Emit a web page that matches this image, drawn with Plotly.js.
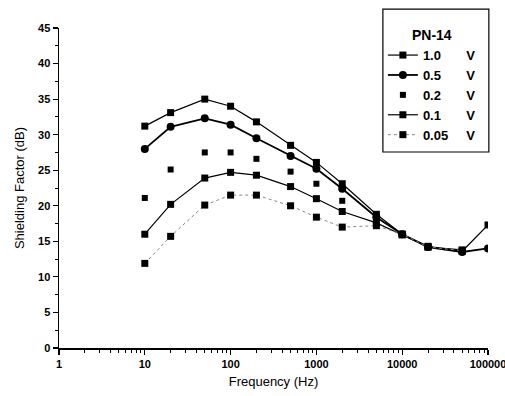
<!DOCTYPE html>
<html>
<head>
<meta charset="utf-8">
<script src="https://cdn.plot.ly/plotly-3.0.1.min.js"></script>
<style>html,body{margin:0;padding:0;background:#fff;}#chart{width:505px;height:396px;}</style>
</head>
<body>
<div id="chart"></div>
<script>
const freq = [10, 20, 50, 100, 200, 500, 1000, 2000, 5000, 10000, 20000, 50000, 100000];
const v10  = [31.2, 33.1, 35.0, 34.0, 31.8, 28.5, 26.1, 23.1, 18.8, 16.0, 14.3, 13.6, 17.3];
const v05  = [28.0, 31.1, 32.3, 31.4, 29.5, 27.0, 25.2, 22.4, 18.4, 16.0, 14.2, 13.5, 14.0];
const v02  = [21.1, 25.1, 27.5, 27.5, 26.6, 24.8, 23.1, 20.7, 18.0, 16.0, 14.2, 13.6, null];
const v01  = [16.0, 20.2, 23.9, 24.7, 24.3, 22.7, 21.0, 19.2, 17.6, 15.9, 14.2, 13.8, null];
const v005 = [11.9, 15.7, 20.1, 21.5, 21.5, 20.0, 18.4, 17.0, 17.2, 16.0, 14.2, 13.7, null];
const seriesNames = ['1.0\u00a0\u00a0\u00a0\u00a0\u00a0\u00a0\u00a0V', '0.5\u00a0\u00a0\u00a0\u00a0\u00a0\u00a0\u00a0V', '0.2\u00a0\u00a0\u00a0\u00a0\u00a0\u00a0\u00a0V', '0.1\u00a0\u00a0\u00a0\u00a0\u00a0\u00a0\u00a0V', '0.05\u00a0\u00a0\u00a0\u00a0\u00a0V'];
const legendTitle = 'PN-14';
const xTickVals = [1, 10, 100, 1000, 10000, 100000];
const xTickText = ['1', '10', '100', '1000', '10000', '100000'];
const yTickVals = [0, 5, 10, 15, 20, 25, 30, 35, 40, 45];

const F = 'Liberation Sans, Arial, sans-serif';
const traces = [
  {x: freq, y: v10, name: seriesNames[0], mode: 'lines+markers',
   line: {color: '#000', width: 1.2}, marker: {symbol: 'square', size: 7, color: '#000'}},
  {x: freq, y: v05, name: seriesNames[1], mode: 'lines+markers',
   line: {color: '#000', width: 1.8}, marker: {symbol: 'circle', size: 8, color: '#000'}},
  {x: freq, y: v02, name: seriesNames[2], mode: 'markers',
   marker: {symbol: 'square', size: 6, color: '#000'}},
  {x: freq, y: v01, name: seriesNames[3], mode: 'lines+markers',
   line: {color: '#000', width: 1.2}, marker: {symbol: 'square', size: 7, color: '#000'}},
  {x: freq, y: v005, name: seriesNames[4], mode: 'lines+markers',
   line: {color: '#888', width: 1, dash: 'dot'}, marker: {symbol: 'square', size: 7, color: '#000'}}
];

const layout = {
  width: 505, height: 396,
  margin: {l: 59, r: 17, t: 28, b: 48},
  paper_bgcolor: '#fff', plot_bgcolor: '#fff',
  font: {family: F, color: '#000'},
  showlegend: true,
  xaxis: {
    type: 'log', range: [0, 5],
    tickmode: 'array', tickvals: xTickVals, ticktext: xTickText,
    ticklabeloverflow: 'allow',
    ticks: 'outside', ticklen: 5, tickwidth: 1.2, tickcolor: '#000',
    minor: {ticks: 'outside', ticklen: 3, tickwidth: 1, tickcolor: '#000', dtick: 'D1', showgrid: false},
    showline: true, linecolor: '#000', linewidth: 1.5,
    showgrid: false, zeroline: false,
    tickfont: {family: F, size: 11, weight: 'bold', color: '#000'},
    title: {text: 'Frequency (Hz)', font: {family: F, size: 13, color: '#000'}, standoff: 8}
  },
  yaxis: {
    range: [0, 45], tickmode: 'array', tickvals: yTickVals,
    ticks: 'outside', ticklen: 5, tickwidth: 1.2, tickcolor: '#000',
    minor: {ticks: 'outside', ticklen: 3, tickwidth: 1, tickcolor: '#000', dtick: 2.5, tick0: 0, showgrid: false},
    showline: true, linecolor: '#000', linewidth: 1.5,
    showgrid: false, zeroline: false,
    tickfont: {family: F, size: 11, weight: 'bold', color: '#000'},
    title: {text: 'Shielding Factor (dB)', font: {family: F, size: 13, color: '#000'}, standoff: 10}
  },
  legend: {
    x: 0.755, y: 1.019, xanchor: 'left', yanchor: 'top',
    borderwidth: 0, bgcolor: 'rgba(0,0,0,0)',
    font: {family: F, size: 13, weight: 'bold', color: '#000'},
    title: {text: legendTitle, side: 'top center', font: {family: F, size: 14, weight: 'bold', color: '#000'}},
    tracegroupgap: 0
  },
  shapes: [
    {type: 'rect', xref: 'paper', yref: 'paper', x0: 0.755, x1: 1.002, y0: 0.6125, y1: 1.059,
     line: {color: '#000', width: 1.2}, fillcolor: 'rgba(0,0,0,0)', layer: 'above'}
  ]
};

Plotly.newPlot('chart', traces, layout, {displayModeBar: false, staticPlot: true});
</script>
</body>
</html>
